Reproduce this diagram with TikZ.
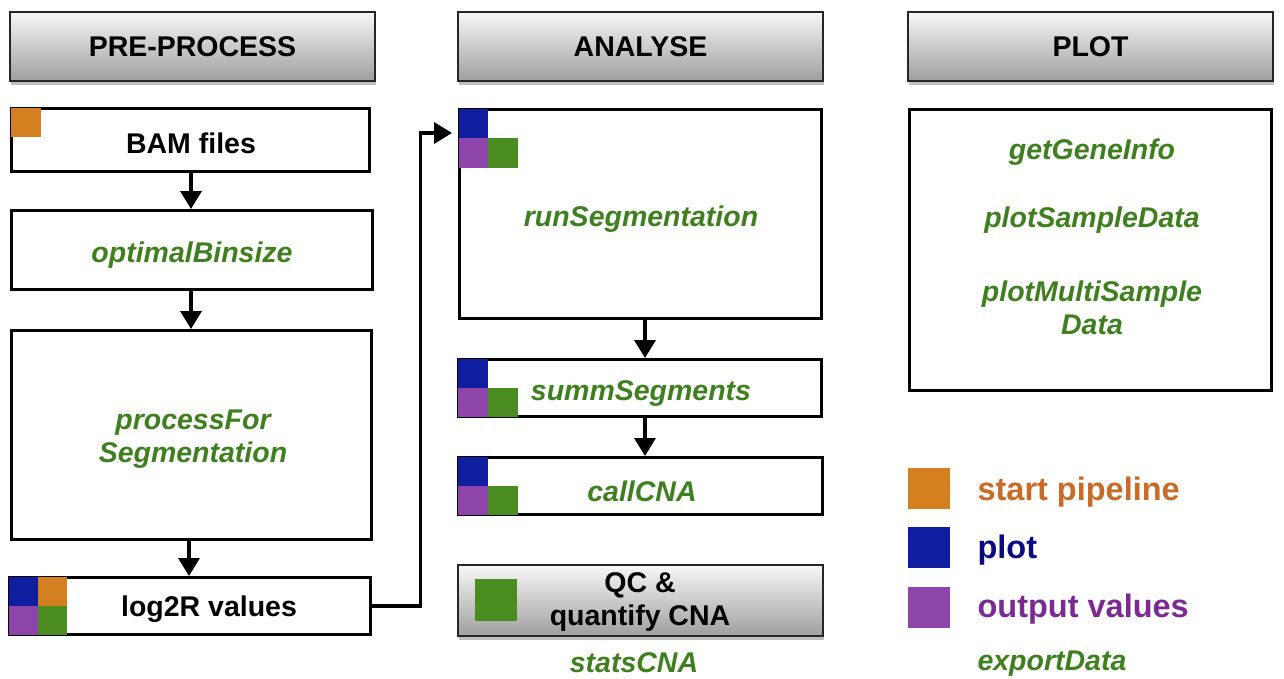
\documentclass[tikz,border=0pt]{standalone}
\usepackage{fontspec}
\setmainfont{Liberation Sans}
\usetikzlibrary{arrows.meta,shadows}
\definecolor{sqorange}{HTML}{D47F20}
\definecolor{sqblue}{HTML}{0E1E9E}
\definecolor{sqpurple}{HTML}{8E45AA}
\definecolor{sqgreen}{HTML}{4A8B22}
\definecolor{fgreen}{HTML}{3F7F1F}
\definecolor{lorange}{HTML}{C96B28}
\definecolor{lblue}{HTML}{0A0A82}
\definecolor{lpurple}{HTML}{7A2A92}
\begin{document}
\begin{tikzpicture}[x=1pt,y=-1pt,
 box/.style={draw=black, line width=3pt, fill=white, inner sep=0pt},
 hdr/.style={draw=black!85, line width=1.3pt, inner sep=0pt, top color=black!3, bottom color=black!38,
   drop shadow={shadow xshift=1pt,shadow yshift=-4pt,opacity=0.25,fill=black},
   font=\fontsize{28.5}{33}\selectfont\bfseries, align=center},
 fn/.style={font=\fontsize{28.5}{33}\selectfont\bfseries\itshape, text=fgreen, align=center},
 lbl/.style={font=\fontsize{28.5}{33}\selectfont\bfseries, align=center},
 leg/.style={font=\fontsize{32.5}{36}\selectfont\bfseries, anchor=base west},
 arr/.style={line width=3.5pt, -{Triangle[width=21pt,length=18pt]}},
]
\useasboundingbox (0,0) rectangle (1284,678);

% headers
\node[hdr, minimum width=365pt, minimum height=69pt] (hpre) at (192.5,46.5) {PRE-PROCESS};
\node[hdr, minimum width=365pt, minimum height=69pt] (hana) at (640.5,46.5) {ANALYSE};
\node[hdr, minimum width=365pt, minimum height=69pt] (hplot) at (1090.5,46.5) {PLOT};

% left column
\node[box, minimum width=358pt, minimum height=63pt] (bam) at (190.5,140) {};
\node[lbl] (tbam) at (191,143) {BAM files};
\node[box, minimum width=361pt, minimum height=79pt] (opt) at (192,250) {};
\node[fn] (topt) at (192,255) {optimalBinsize};
\node[box, minimum width=360pt, minimum height=209pt] (proc) at (191.5,435) {};
\node[fn] (tproc) at (193,439) {processFor\\Segmentation};
\node[box, minimum width=361pt, minimum height=57pt] (log) at (190,606) {};
\node[lbl] (tlog) at (209,609) {log2R values};

\fill[sqorange] (11,108) rectangle (41,137);
\fill[sqblue] (9,577) rectangle (38,606);
\fill[sqorange] (38,577) rectangle (67,606);
\fill[sqpurple] (9,606) rectangle (38,635);
\fill[sqgreen] (38,606) rectangle (67,635);

% middle column
\node[box, minimum width=362pt, minimum height=209pt] (run) at (640.5,214) {};
\node[fn] (trun) at (641,219) {runSegmentation};
\node[box, minimum width=363pt, minimum height=57pt] (summ) at (640,388) {};
\node[fn] (tsumm) at (641,393) {summSegments};
\node[box, minimum width=364pt, minimum height=57pt] (call) at (640.5,486) {};
\node[fn] (tcall) at (642,491) {callCNA};
\node[hdr, minimum width=365pt, minimum height=71pt] (qc) at (640.5,600.5) {};
\node[lbl] (tqc) at (640,602) {QC \&\\quantify CNA};
\node[fn] (tstats) at (634,663) {statsCNA};

\fill[sqblue] (459,109) rectangle (488,138);
\fill[sqpurple] (459,138) rectangle (488,168);
\fill[sqgreen] (488,138) rectangle (518,168);
\fill[sqblue] (458,359) rectangle (488,388);
\fill[sqpurple] (458,388) rectangle (488,417);
\fill[sqgreen] (488,388) rectangle (518,417);
\fill[sqblue] (458,457) rectangle (488,486);
\fill[sqpurple] (458,486) rectangle (488,515);
\fill[sqgreen] (488,486) rectangle (518,515);
\fill[sqgreen] (475,579) rectangle (517,621);

% right column
\node[box, minimum width=362pt, minimum height=281pt] (plotbox) at (1090.5,250) {};
\node[fn] (tgene) at (1092,152) {getGeneInfo};
\node[fn] (tsample) at (1092,220) {plotSampleData};
\node[fn] (tmulti) at (1092,308) {plotMultiSample\\Data};

% legend
\fill[sqorange] (908,468) rectangle (950,509);
\fill[sqblue] (908,527) rectangle (950,568);
\fill[sqpurple] (908,587) rectangle (950,628);
\node[leg, text=lorange] (lstart) at (974,500) {start pipeline};
\node[leg, text=lblue] (lplot) at (974,558) {plot};
\node[leg, text=lpurple] (lout) at (974,617) {output values};
\node[fn, anchor=base west] (lexp) at (974,670) {exportData};

% arrows
\draw[arr] ([xshift=0.5pt]bam.south) -- ([xshift=0.5pt]bam.south |- opt.north);
\draw[arr] ([xshift=-1pt]opt.south) -- ([xshift=-1pt]opt.south |- proc.north);
\draw[arr] ([xshift=-2.5pt]proc.south) -- ([xshift=-2.5pt]proc.south |- log.north);
\draw[arr] ([xshift=4.5pt]run.south) -- ([xshift=4.5pt]run.south |- summ.north);
\draw[arr] ([xshift=5pt]summ.south) -- ([xshift=5pt]summ.south |- call.north);
\draw[arr, shorten >=6pt] (log.east) -- ++(48.5,0) |- ([yshift=81pt]run.west);
\end{tikzpicture}
\end{document}
